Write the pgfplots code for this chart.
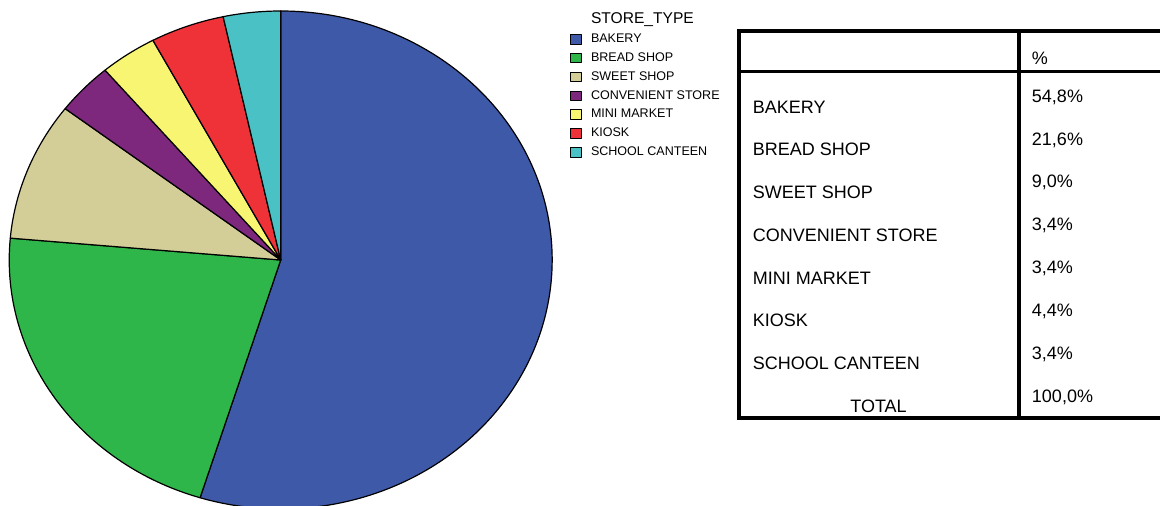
\documentclass[border=0pt]{standalone}
\usepackage{fontspec}
\setmainfont{Liberation Sans}
\usepackage{pgfplots}
\pgfplotsset{compat=1.18}

\definecolor{cBakery}{RGB}{63,89,169}
\definecolor{cBread}{RGB}{46,182,74}
\definecolor{cSweet}{RGB}{211,205,151}
\definecolor{cConv}{RGB}{125,40,125}
\definecolor{cMini}{RGB}{247,245,113}
\definecolor{cKiosk}{RGB}{238,50,56}
\definecolor{cSchool}{RGB}{73,193,197}

% shares in percent
\def\pBakery{54.8}
\def\pBread{21.6}
\def\pSweet{9.0}
\def\pConv{3.4}
\def\pMini{3.4}
\def\pKiosk{4.4}
\def\pSchool{3.4}

% cumulative angles (start at top, clockwise)
\pgfmathsetmacro\aA{90}
\pgfmathsetmacro\aB{\aA-3.6*\pBakery}
\pgfmathsetmacro\aC{\aB-3.6*\pBread}
\pgfmathsetmacro\aD{\aC-3.6*\pSweet}
\pgfmathsetmacro\aE{\aD-3.6*\pConv}
\pgfmathsetmacro\aF{\aE-3.6*\pMini}
\pgfmathsetmacro\aG{\aF-3.6*\pKiosk}
\pgfmathsetmacro\aH{\aG-3.6*\pSchool}

\newcommand\slice[4]{%
  \addplot[fill=#1, draw=black, line width=0.9pt, line join=round]
    coordinates {(280.7,260)} -- ++(#2:203.6pt and 186.75pt)
    arc[start angle=#2, end angle=#3, x radius=203.6pt, y radius=186.75pt] -- cycle;
  \addlegendentry{#4}
}

\begin{document}
\begin{tikzpicture}
\useasboundingbox (0,0) rectangle (870pt,379.5pt);
\begin{axis}[
  at={(0,0)}, anchor=south west,
  scale only axis, width=870pt, height=379.5pt,
  xmin=0, xmax=1160, ymin=0, ymax=506, y dir=reverse,
  hide axis, clip=true,
  legend style={at={(axis cs:570,12.5)}, anchor=north west, draw=none, fill=none,
    inner sep=0pt, row sep=6.1pt, column sep=7pt,
    font=\fontsize{9.4}{10}\selectfont, nodes={inner sep=0pt}},
  legend cell align=left,
  legend image code/.code={\draw[#1, line width=0.55pt] (0pt,-3.6pt) rectangle (8pt,3.6pt);},
]
\addlegendimage{empty legend}
\addlegendentry{\fontsize{11.7}{12}\selectfont\raisebox{0pt}[\height][-2.7pt]{STORE\_TYPE}}

\slice{cBakery}{\aA}{\aB}{BAKERY}
\slice{cBread}{\aB}{\aC}{BREAD SHOP}
\slice{cSweet}{\aC}{\aD}{SWEET SHOP}
\slice{cConv}{\aD}{\aE}{CONVENIENT STORE}
\slice{cMini}{\aE}{\aF}{MINI MARKET}
\slice{cKiosk}{\aF}{\aG}{KIOSK}
\slice{cSchool}{\aG}{\aH}{SCHOOL CANTEEN}

% table frame
\draw[line width=2.4pt] (axis cs:737,31) -- (axis cs:1160,31);
\draw[line width=2.3pt] (axis cs:737,71.5) -- (axis cs:1160,71.5);
\draw[line width=3pt] (axis cs:737,418) -- (axis cs:1160,418);
\draw[line width=3pt] (axis cs:739,29.5) -- (axis cs:739,420);
\draw[line width=3pt] (axis cs:1018.7,29.5) -- (axis cs:1018.7,420);

\begin{scope}[every node/.style={inner sep=0pt, font=\fontsize{13.5}{16}\selectfont}]
\node[anchor=base west] at (axis cs:1031.7,65) {\%};
\node[anchor=base west] at (axis cs:752.7,113.3) {BAKERY};
\node[anchor=base west] at (axis cs:752.7,155.8) {BREAD SHOP};
\node[anchor=base west] at (axis cs:752.7,198.5) {SWEET SHOP};
\node[anchor=base west] at (axis cs:752.7,241.5) {CONVENIENT STORE};
\node[anchor=base west] at (axis cs:752.7,284.2) {MINI MARKET};
\node[anchor=base west] at (axis cs:752.7,326.9) {KIOSK};
\node[anchor=base west] at (axis cs:752.7,369.9) {SCHOOL CANTEEN};
\node[anchor=base] at (axis cs:878.5,412.7) {TOTAL};
\node[anchor=base west] at (axis cs:1031.7,102.7) {54,8\%};
\node[anchor=base west] at (axis cs:1031.7,145.2) {21,6\%};
\node[anchor=base west] at (axis cs:1031.7,187.9) {9,0\%};
\node[anchor=base west] at (axis cs:1031.7,230.8) {3,4\%};
\node[anchor=base west] at (axis cs:1031.7,273.5) {3,4\%};
\node[anchor=base west] at (axis cs:1031.7,316.6) {4,4\%};
\node[anchor=base west] at (axis cs:1031.7,359.6) {3,4\%};
\node[anchor=base west] at (axis cs:1031.7,402.7) {100,0\%};
\end{scope}
\end{axis}
\end{tikzpicture}
\end{document}
